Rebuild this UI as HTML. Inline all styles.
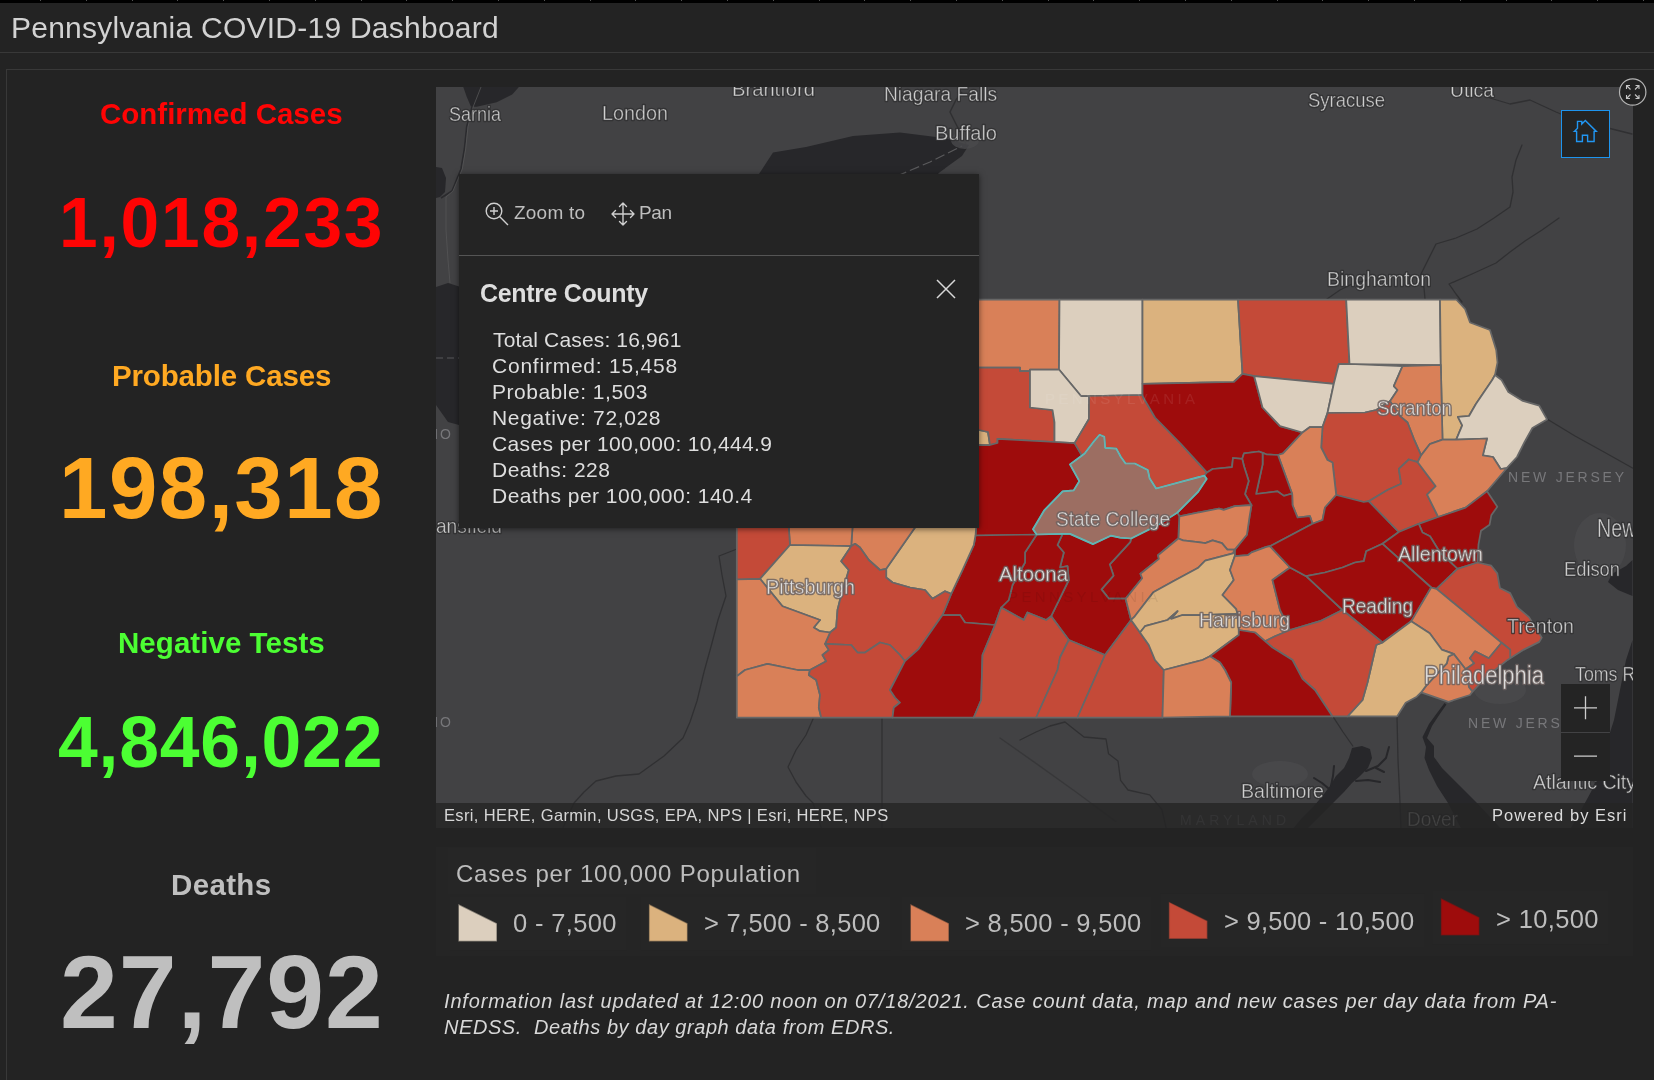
<!DOCTYPE html>
<html lang="en"><head><meta charset="utf-8"><title>Pennsylvania COVID-19 Dashboard</title>
<style>

html,body{margin:0;padding:0;}
body{width:1654px;height:1080px;overflow:hidden;background:#232323;font-family:"Liberation Sans", sans-serif;position:relative;}
.t{position:absolute;white-space:nowrap;line-height:1;will-change:transform;}
.abs{position:absolute;}
#topbar{left:0;top:0;width:1654px;height:3px;background:#000;}
#hl1{left:0;top:52px;width:1654px;height:1px;background:#383838;}
#hl2{left:6px;top:69px;width:1648px;height:1px;background:#383838;}
#vl{left:6px;top:69px;width:1px;height:1011px;background:#383838;}
.lab{left:7px;width:429px;text-align:center;font-weight:bold;}
#map{left:436px;top:87px;width:1196.5px;height:740.5px;overflow:hidden;background:#424244;}
#map svg{position:absolute;left:0;top:0;will-change:transform;}
.ml{font-family:"Liberation Sans", sans-serif;fill:#d0d0d0;stroke:rgba(66,66,68,0.9);stroke-width:0.55px;}
.mlh{font-family:"Liberation Sans", sans-serif;fill:none;stroke:rgba(44,44,46,0.75);stroke-width:2.4px;stroke-linejoin:round;}
.mlp{font-family:"Liberation Sans", sans-serif;fill:#dedede;stroke:rgba(120,105,100,0.9);stroke-width:0.55px;}
.mlph{font-family:"Liberation Sans", sans-serif;fill:none;stroke:rgba(105,95,95,0.8);stroke-width:2.6px;stroke-linejoin:round;}
.st{font-family:"Liberation Sans", sans-serif;fill:#77777a;letter-spacing:4px;}
#popup{left:23px;top:87px;width:520px;height:353.5px;background:#242424;box-shadow:0 1px 6px rgba(0,0,0,0.55);}
#popsep{left:0;top:80.5px;width:520px;height:1px;background:#555;}
.btn{background:#242424;}
#attr{left:0;top:716px;width:1196.5px;height:24.5px;background:rgba(36,36,36,0.82);}
.lg{background:#262626;}

</style></head><body>
<div id="topbar" class="abs"></div>
<div class="abs" style="left:40px;top:0;width:1px;height:1px;background:#555"></div><div class="abs" style="left:86px;top:0;width:1px;height:1px;background:#555"></div><div class="abs" style="left:132px;top:0;width:1px;height:1px;background:#555"></div><div class="abs" style="left:177px;top:0;width:1px;height:1px;background:#555"></div><div class="abs" style="left:223px;top:0;width:1px;height:1px;background:#555"></div><div class="abs" style="left:269px;top:0;width:1px;height:1px;background:#555"></div><div class="abs" style="left:315px;top:0;width:1px;height:1px;background:#555"></div><div class="abs" style="left:361px;top:0;width:1px;height:1px;background:#555"></div><div class="abs" style="left:406px;top:0;width:1px;height:1px;background:#555"></div><div class="abs" style="left:452px;top:0;width:1px;height:1px;background:#555"></div><div class="abs" style="left:498px;top:0;width:1px;height:1px;background:#555"></div><div class="abs" style="left:544px;top:0;width:1px;height:1px;background:#555"></div><div class="abs" style="left:590px;top:0;width:1px;height:1px;background:#555"></div><div class="abs" style="left:635px;top:0;width:1px;height:1px;background:#555"></div><div class="abs" style="left:681px;top:0;width:1px;height:1px;background:#555"></div><div class="abs" style="left:727px;top:0;width:1px;height:1px;background:#555"></div><div class="abs" style="left:773px;top:0;width:1px;height:1px;background:#555"></div><div class="abs" style="left:819px;top:0;width:1px;height:1px;background:#555"></div><div class="abs" style="left:864px;top:0;width:1px;height:1px;background:#555"></div><div class="abs" style="left:910px;top:0;width:1px;height:1px;background:#555"></div><div class="abs" style="left:956px;top:0;width:1px;height:1px;background:#555"></div><div class="abs" style="left:1002px;top:0;width:1px;height:1px;background:#555"></div><div class="abs" style="left:1048px;top:0;width:1px;height:1px;background:#555"></div><div class="abs" style="left:1093px;top:0;width:1px;height:1px;background:#555"></div><div class="abs" style="left:1139px;top:0;width:1px;height:1px;background:#555"></div><div class="abs" style="left:1185px;top:0;width:1px;height:1px;background:#555"></div><div class="abs" style="left:1231px;top:0;width:1px;height:1px;background:#555"></div><div class="abs" style="left:1277px;top:0;width:1px;height:1px;background:#555"></div><div class="abs" style="left:1322px;top:0;width:1px;height:1px;background:#555"></div><div class="abs" style="left:1368px;top:0;width:1px;height:1px;background:#555"></div><div class="abs" style="left:1414px;top:0;width:1px;height:1px;background:#555"></div><div class="abs" style="left:1460px;top:0;width:1px;height:1px;background:#555"></div><div class="abs" style="left:1506px;top:0;width:1px;height:1px;background:#555"></div><div class="abs" style="left:1551px;top:0;width:1px;height:1px;background:#555"></div><div class="abs" style="left:1597px;top:0;width:1px;height:1px;background:#555"></div><div class="abs" style="left:1643px;top:0;width:1px;height:1px;background:#555"></div>
<div class="t" style="left:11.20px;top:12.61px;font-size:30px;color:#d2d2d2;font-weight:normal;font-style:normal;letter-spacing:0.248px;">Pennsylvania COVID-19 Dashboard</div>
<div id="hl1" class="abs"></div><div id="hl2" class="abs"></div><div id="vl" class="abs"></div>
<div class="t" style="left:100.22px;top:98.63px;font-size:29.5px;color:#ff0404;font-weight:bold;font-style:normal;letter-spacing:-0.006px;">Confirmed Cases</div>
<div class="t" style="left:58.93px;top:189.47px;font-size:69.5px;color:#ff0404;font-weight:bold;font-style:normal;letter-spacing:1.791px;">1,018,233</div>
<div class="t" style="left:111.58px;top:360.63px;font-size:29.5px;color:#ffa922;font-weight:bold;font-style:normal;letter-spacing:-0.150px;">Probable Cases</div>
<div class="t" style="left:59.18px;top:444.15px;font-size:87px;color:#ffa922;font-weight:bold;font-style:normal;letter-spacing:1.504px;">198,318</div>
<div class="t" style="left:117.88px;top:628.23px;font-size:29.5px;color:#4cff33;font-weight:bold;font-style:normal;letter-spacing:0.049px;">Negative Tests</div>
<div class="t" style="left:58.43px;top:707.18px;font-size:71.5px;color:#4cff33;font-weight:bold;font-style:normal;letter-spacing:0.795px;">4,846,022</div>
<div class="t" style="left:171.08px;top:869.63px;font-size:29.5px;color:#bfbfbf;font-weight:bold;font-style:normal;letter-spacing:0.343px;">Deaths</div>
<div class="t" style="left:60.16px;top:939.96px;font-size:104px;color:#bfbfbf;font-weight:bold;font-style:normal;letter-spacing:0.952px;">27,792</div>
<div id="map" class="abs">
<svg width="1196.5" height="740.5" viewBox="436 87 1196.5 740.5">
<g fill="#27272a" stroke="none">
<polygon points="436,287 448,283 470,290 600,280 700,240 759,174 773,152.5 806,147 853,136 900,132.6 943.8,138 969,145 962,156 940,172 900,210 850,260 800,300 740,330 650,380 550,420 470,428 448,422 436,405"/>
<polygon points="436,167 442,168 446,178 445,192 440,197 436,198"/>
<polygon points="463.3,87 518.9,87 512.2,94.4 496.7,102.2 476.7,106.7 471,106.7 466.7,96.7"/>
<polygon points="1352,748 1362,746 1370,749 1372,758 1368,768 1360,776 1352,783 1344,792 1336,800 1326,810 1316,820 1306,830 1292,830 1302,818 1314,806 1324,794 1330,786 1336,776 1344,768 1349,758"/>
<g fill="none" stroke="#27272a" stroke-width="2" stroke-linejoin="round" stroke-linecap="round"><polyline points="1366,771 1378,766 1386,758 1389,747"/><polyline points="1356,781 1368,780 1380,782"/><polyline points="1334,766 1333,776 1331,786"/><polyline points="1314,778 1322,783 1328,788"/><polyline points="1376,768 1384,772"/></g>
<polygon points="1444.5,703 1437,713 1429,724 1422.5,737 1426,747 1424.5,758 1429,770 1437,786 1448,803 1462,830 1502,830 1477,803 1459,785 1442,768 1434,757 1434,746 1427,738 1432,726 1439.5,714.5 1446.5,704.5"/>
<polygon points="1632.5,560 1626,566 1612,574 1608,582 1618,590 1632.5,596"/>
<polygon points="1632.5,640 1626,660 1620,690 1614,720 1606,745 1600,770 1592,790 1580,812 1570,830 1632.5,830"/>
</g>
<g fill="none" stroke="#303032" stroke-width="1.3" stroke-linejoin="round" stroke-linecap="round">
<polyline points="737,549 719,556 722,575 726,596 718,620 712,643 704,672 697,701 690,722 683,738 664,756 639,774 616,776 596,781 584,792 574,803 562,830"/>
<polyline points="882,719 882,830"/>
<polyline points="813,719 806,735 796,750 788,767 796,782 806,796 813,803 822,830"/>
<polyline points="1020,740 1036,732 1050,726 1065,722 1075,730 1084,737 1106,739 1108.5,753.7 1118,761 1120.6,780.3 1128,790 1149.7,794.8 1161.8,809.3 1166.6,830"/>
<polyline points="1000,738 1036,763.4 1076,792 1115.8,821.4" stroke-opacity="0.6"/>
<polyline points="1333.5,717.4 1343,732 1352.8,746"/>
<polyline points="1397,717 1398,760 1400,803 1401,830"/>
<polyline points="1522,145 1516,160 1512,177 1513,192 1510,207 1494,218 1477,229 1456,238 1436,244 1428,260 1421,274 1424,288 1425,299"/>
<polyline points="1559,218 1542,230 1525,241 1510,252 1496,263 1472,274 1449,284 1456,294 1462,302"/>
<polyline points="1480,87 1490,98 1510,104 1530,100 1556,112 1580,122 1600,126 1632,134"/>
<polyline points="1547,419 1575,436 1604,452 1632.5,468"/>
<polyline points="1327,299 1340,290 1352,284 1368,280"/>
</g>
<polyline points="472,106.7 466.7,126.7 464.4,149 461,169 452,191 441,198" fill="none" stroke="#2b2b2e" stroke-width="1.6"/>
<polyline points="481,87 473.5,106 468,126.7 465.7,149 462.3,169 453,191 446,197 446,230 448,260 450,283" fill="none" stroke="#555557" stroke-width="0.8"/>
<polyline points="436,358 459,358" fill="none" stroke="#58585a" stroke-width="1" stroke-dasharray="7 4"/>
<polyline points="966,144 958,128 950,112 956,100 962,92" fill="none" stroke="#303032" stroke-width="1.5"/>
<polyline points="897,176 930,162 962,146" fill="none" stroke="#5a5a5c" stroke-width="1.2" stroke-dasharray="10 4"/>
<g fill="#4a4a4c" stroke="none" opacity="0.8">
<ellipse cx="1500" cy="690" rx="26" ry="14"/><ellipse cx="1280" cy="774" rx="28" ry="13"/><ellipse cx="1600" cy="545" rx="26" ry="32"/><ellipse cx="965" cy="140" rx="14" ry="9"/>
</g>
<text class="st" x="1508" y="482" font-size="14" textLength="120">NEW JERSEY</text>
<text class="st" x="1468" y="728" font-size="14" textLength="120">NEW JERSEY</text>
<text class="st" x="1180" y="825" font-size="14" fill="#5a5a5c" textLength="110">MARYLAND</text>
<text class="st" x="409" y="438.5" font-size="14" textLength="46">OHIO</text>
<text class="st" x="409" y="726.5" font-size="14" textLength="46">OHIO</text>
<g stroke="#676767" stroke-width="1.75" stroke-linejoin="round">
<polygon fill="#d98058" points="900.0,299.5 1059.5,299.5 1059.0,369.5 1030.0,369.5 1030.0,371.2 1020.0,371.2 1020.0,367.5 900.0,367.5"/>
<polygon fill="#dccfbe" points="1059.5,299.5 1142.5,299.5 1142.5,395.0 1089.0,396.0 1081.0,396.0 1059.0,369.5"/>
<polygon fill="#dbb27e" points="1142.5,299.5 1238.0,299.5 1242.5,373.8 1233.8,382.0 1142.5,383.8"/>
<polygon fill="#c44a38" points="1238.0,299.5 1346.2,299.5 1349.5,364.0 1338.8,364.0 1333.8,383.8 1254.2,376.2 1242.5,373.8"/>
<polygon fill="#dccfbe" points="1346.2,299.5 1440.0,299.5 1440.8,365.0 1349.5,364.0"/>
<polygon fill="#dbb27e" points="1440.0,299.5 1456.2,299.5 1465.0,308.8 1470.0,322.5 1490.0,330.0 1496.2,350.0 1497.5,362.5 1495.0,375.0 1492.2,380.0 1475.9,404.0 1469.0,416.0 1457.9,416.8 1462.2,425.4 1456.2,439.7 1442.5,439.7 1440.8,365.0"/>
<polygon fill="#dccfbe" points="1495.0,375.0 1501.6,380.0 1508.4,392.0 1522.1,400.6 1539.3,405.7 1547.0,419.4 1532.4,428.0 1524.7,441.7 1517.0,457.0 1506.7,468.2 1500.7,469.0 1493.0,457.0 1482.8,455.4 1487.0,438.5 1456.2,439.7 1462.2,425.4 1457.9,416.8 1469.0,416.0 1475.9,404.0 1492.2,380.0"/>
<polygon fill="#dbb27e" points="900.0,430.0 979.0,430.0 988.0,432.0 990.0,445.0 900.0,445.0"/>
<polygon fill="#c44a38" points="900.0,367.5 1020.0,367.5 1020.0,371.2 1030.0,371.2 1030.0,407.5 1052.5,410.0 1054.5,422.5 1054.5,442.0 997.5,438.8 997.5,443.0 990.0,445.0 988.0,432.0 979.0,430.0 900.0,430.0"/>
<polygon fill="#dccfbe" points="1030.0,369.5 1059.0,369.5 1081.0,396.0 1089.0,396.0 1089.0,419.0 1074.6,443.1 1054.5,442.0 1054.5,422.5 1052.5,410.0 1030.0,407.5"/>
<polygon fill="#9e0c0c" points="997.5,438.8 1054.5,442.0 1074.6,443.1 1082.0,455.5 1070.0,464.4 1079.3,481.1 1073.7,490.4 1062.6,491.3 1044.0,510.7 1033.0,529.3 1036.7,534.5 975.5,535.5 976.2,527.5 900.0,527.5 900.0,445.0 990.0,445.0 997.5,443.0"/>
<polygon fill="#c44a38" points="1089.0,396.0 1142.5,395.0 1143.0,397.0 1155.0,417.5 1181.0,444.0 1207.0,472.5 1204.3,475.6 1156.1,488.5 1149.6,478.3 1147.8,470.0 1134.8,463.5 1125.6,463.5 1120.9,457.0 1116.3,448.7 1105.2,447.8 1104.3,436.7 1099.6,434.8 1094.0,441.3 1084.8,453.3 1082.0,455.5 1074.6,443.1 1089.0,419.0"/>
<polygon fill="#9e0c0c" points="1142.5,383.8 1233.8,382.0 1242.5,373.8 1254.2,376.2 1262.5,407.5 1280.0,426.2 1302.5,432.5 1283.0,453.3 1278.0,455.0 1266.3,454.3 1262.6,452.9 1258.9,451.5 1244.0,453.3 1242.2,458.9 1233.0,458.0 1232.0,467.2 1212.6,469.0 1207.0,472.5 1181.0,444.0 1155.0,417.5 1143.0,397.0 1142.5,395.0"/>
<polygon fill="#dccfbe" points="1254.2,376.2 1333.8,383.8 1327.5,413.0 1322.5,427.0 1310.0,427.0 1302.5,432.5 1280.0,426.2 1262.5,407.5"/>
<polygon fill="#dccfbe" points="1338.8,364.0 1349.5,364.0 1402.5,366.2 1393.8,386.2 1397.5,390.0 1390.0,401.2 1376.2,410.0 1365.0,412.5 1327.5,413.0 1333.8,383.8"/>
<polygon fill="#d98058" points="1402.5,366.2 1440.8,365.0 1442.5,439.7 1429.7,444.2 1421.1,455.4 1413.8,438.8 1407.5,422.5 1400.0,416.2 1390.0,401.2 1397.5,390.0 1393.8,386.2"/>
<polygon fill="#c44a38" points="1327.5,413.0 1365.0,412.5 1376.2,410.0 1390.0,401.2 1400.0,416.2 1407.5,422.5 1413.8,438.8 1421.1,455.4 1417.7,462.2 1408.8,459.5 1398.8,468.8 1401.2,483.8 1387.5,490.0 1368.8,501.2 1363.8,502.0 1336.2,495.0 1332.5,462.5 1327.5,460.0 1321.2,447.5 1322.5,427.0"/>
<polygon fill="#d98058" points="1310.0,427.0 1322.5,427.0 1321.2,447.5 1327.5,460.0 1332.5,462.5 1336.2,495.0 1325.0,507.5 1322.5,520.0 1312.5,523.8 1310.0,516.2 1297.5,517.5 1292.5,505.0 1292.2,494.0 1278.0,455.0 1283.0,453.3 1302.5,432.5"/>
<polygon fill="#9e0c0c" points="1262.6,452.9 1266.3,454.3 1278.0,455.0 1292.2,494.0 1290.4,494.0 1283.9,495.9 1277.4,491.3 1256.1,494.0 1262.6,464.4"/>
<polygon fill="#9e0c0c" points="1242.2,458.9 1244.0,453.3 1258.9,451.5 1262.6,452.9 1262.6,464.4 1256.1,494.0 1277.4,491.3 1283.9,495.9 1290.4,494.0 1292.2,494.0 1292.5,505.0 1297.5,517.5 1310.0,516.2 1312.5,523.8 1270.0,546.2 1266.3,546.9 1251.5,552.4 1247.8,555.2 1234.8,556.1 1234.8,549.6 1246.9,534.8 1249.6,516.3 1251.5,505.2 1245.0,494.0 1248.7,481.1 1244.0,466.3"/>
<polygon fill="#9e0c0c" points="1207.0,472.5 1212.6,469.0 1232.0,467.2 1233.0,458.0 1242.2,458.9 1244.0,466.3 1248.7,481.1 1245.0,494.0 1251.5,505.2 1234.8,506.1 1223.7,509.8 1219.0,508.5 1179.3,516.3 1177.4,512.6 1197.8,492.2 1206.7,478.9 1204.3,475.6"/>
<polygon fill="#d98058" points="1179.3,516.3 1219.0,508.5 1223.7,509.8 1234.8,506.1 1251.5,505.2 1249.6,516.3 1246.9,534.8 1234.8,549.6 1227.4,549.6 1221.9,543.1 1212.6,540.4 1205.2,543.1 1183.0,540.4 1178.3,538.5"/>
<polygon fill="#9e0c0c" points="1131.1,538.5 1157.0,525.6 1177.4,512.6 1179.3,516.3 1178.3,538.5 1158.0,555.2 1158.9,558.9 1140.4,573.7 1142.2,578.3 1125.6,598.7 1108.9,598.7 1101.5,589.4 1113.5,575.6 1109.8,564.4 1130.2,542.2"/>
<polygon fill="#9e0c0c" points="1062.6,533.9 1070.0,533.9 1093.1,544.1 1110.7,535.7 1120.0,537.6 1131.1,538.5 1130.2,542.2 1109.8,564.4 1113.5,575.6 1101.5,589.4 1108.9,598.7 1125.6,598.7 1131.1,620.0 1105.0,655.0 1068.8,640.0 1051.2,616.2 1068.8,580.0 1067.5,566.2 1060.0,567.5 1063.8,552.5 1057.5,545.0"/>
<polygon fill="#9e0c0c" points="1036.7,534.5 1062.6,533.9 1057.5,545.0 1063.8,552.5 1060.0,567.5 1067.5,566.2 1068.8,580.0 1051.2,616.2 1046.2,620.0 1027.5,612.5 1023.8,620.0 1001.2,607.5 1008.8,600.0 1012.5,585.0 1025.0,562.5 1025.0,552.5"/>
<polygon fill="#9e0c0c" points="975.5,535.5 1036.7,534.5 1025.0,552.5 1025.0,562.5 1012.5,585.0 1008.8,600.0 1001.2,607.5 995.0,625.0 965.0,622.5 960.0,615.0 942.5,615.0 951.2,593.8 962.5,570.0 973.8,545.0"/>
<polygon fill="#dbb27e" points="915.0,527.5 930.0,500.0 976.2,500.0 976.2,527.5 975.5,535.5 973.8,545.0 962.5,570.0 951.2,593.8 945.0,591.2 932.5,598.8 925.0,590.0 910.0,587.5 892.5,582.5 886.2,577.5 886.2,568.8"/>
<polygon fill="#d98058" points="852.5,527.5 852.5,500.0 930.0,500.0 915.0,527.5 886.2,568.8 880.0,570.0 868.8,560.0 860.0,547.5 855.0,543.8 851.2,546.2"/>
<polygon fill="#d98058" points="788.8,527.5 788.8,500.0 852.5,500.0 852.5,527.5 851.2,546.2 790.0,545.0"/>
<polygon fill="#c44a38" points="736.8,527.5 736.8,500.0 788.8,500.0 788.8,527.5 790.0,545.0 760.0,578.8 736.8,579.5"/>
<polygon fill="#dbb27e" points="790.0,545.0 851.2,546.2 841.2,561.2 848.8,570.0 840.0,600.0 837.5,610.0 836.2,627.5 830.0,632.5 820.0,631.2 813.8,627.5 820.0,620.0 782.5,606.2 760.0,578.8"/>
<polygon fill="#c44a38" points="855.0,543.8 860.0,547.5 868.8,560.0 880.0,570.0 886.2,568.8 886.2,577.5 892.5,582.5 910.0,587.5 925.0,590.0 932.5,598.8 945.0,591.2 951.2,593.8 942.5,615.0 918.8,648.8 905.0,661.2 900.0,655.0 890.0,645.0 880.0,642.5 865.0,652.5 857.5,652.5 851.2,645.0 825.0,643.8 830.0,632.5 836.2,627.5 837.5,610.0 840.0,600.0 848.8,570.0 841.2,561.2 851.2,546.2"/>
<polygon fill="#d98058" points="736.8,579.5 760.0,578.8 782.5,606.2 820.0,620.0 813.8,627.5 820.0,631.2 830.0,632.5 825.0,643.8 828.8,650.0 822.5,655.0 826.2,661.2 810.0,670.0 797.5,670.0 767.5,663.8 745.0,670.0 736.8,676.2"/>
<polygon fill="#d98058" points="736.8,676.2 745.0,670.0 767.5,663.8 797.5,670.0 810.0,670.0 808.8,675.0 816.2,680.0 820.0,695.0 818.8,707.5 821.2,717.5 736.8,717.5"/>
<polygon fill="#c44a38" points="825.0,643.8 851.2,645.0 857.5,652.5 865.0,652.5 880.0,642.5 890.0,645.0 900.0,655.0 905.0,661.2 890.0,690.0 895.0,697.5 900.0,702.5 893.8,707.5 892.5,717.5 821.2,717.5 818.8,707.5 820.0,695.0 816.2,680.0 808.8,675.0 810.0,670.0 826.2,661.2 822.5,655.0 828.8,650.0"/>
<polygon fill="#9e0c0c" points="942.5,615.0 960.0,615.0 965.0,622.5 995.0,625.0 982.5,655.0 981.2,700.0 973.8,717.5 892.5,717.5 893.8,707.5 900.0,702.5 895.0,697.5 890.0,690.0 905.0,661.2 918.8,648.8"/>
<polygon fill="#c44a38" points="1001.2,607.5 1023.8,620.0 1027.5,612.5 1046.2,620.0 1051.2,616.2 1068.8,640.0 1060.0,657.5 1057.5,670.0 1036.2,717.5 973.8,717.5 981.2,700.0 982.5,655.0 995.0,625.0"/>
<polygon fill="#c44a38" points="1068.8,640.0 1105.0,655.0 1077.5,717.5 1036.2,717.5 1057.5,670.0 1060.0,657.5"/>
<polygon fill="#c44a38" points="1105.0,655.0 1131.1,620.0 1140.0,632.5 1148.8,645.0 1155.0,660.0 1163.8,670.0 1162.5,717.5 1077.5,717.5"/>
<polygon fill="#d98058" points="1158.0,555.2 1178.3,538.5 1183.0,540.4 1205.2,543.1 1212.6,540.4 1221.9,543.1 1227.4,549.6 1234.8,549.6 1233.0,553.3 1205.2,560.7 1197.8,568.1 1173.7,581.1 1153.3,592.2 1134.8,616.3 1131.1,620.0 1125.6,598.7 1142.2,578.3 1140.4,573.7 1158.9,558.9"/>
<polygon fill="#dbb27e" points="1131.1,620.0 1134.8,616.3 1153.3,592.2 1173.7,581.1 1197.8,568.1 1205.2,560.7 1233.0,553.3 1234.8,549.6 1234.8,556.1 1230.0,570.0 1233.8,580.0 1222.5,595.0 1236.2,608.8 1237.5,613.8 1200.0,615.0 1182.5,615.0 1171.2,618.8 1177.5,611.2 1167.5,620.0 1145.0,626.2 1140.0,632.5"/>
<polygon fill="#dbb27e" points="1140.0,632.5 1145.0,626.2 1167.5,620.0 1177.5,611.2 1171.2,618.8 1182.5,615.0 1200.0,615.0 1237.5,613.8 1238.8,630.0 1238.8,635.0 1210.0,656.2 1202.5,660.0 1163.8,670.0 1155.0,660.0 1148.8,645.0"/>
<polygon fill="#d98058" points="1234.8,556.1 1247.8,555.2 1251.5,552.4 1266.3,546.9 1270.0,546.2 1290.0,567.5 1272.5,580.0 1280.0,610.0 1290.0,630.0 1275.0,636.2 1265.0,641.2 1255.0,632.5 1238.8,630.0 1237.5,613.8 1236.2,608.8 1222.5,595.0 1233.8,580.0 1230.0,570.0"/>
<polygon fill="#9e0c0c" points="1290.0,567.5 1306.2,576.2 1342.5,610.0 1320.0,621.2 1290.0,630.0 1280.0,610.0 1272.5,580.0"/>
<polygon fill="#9e0c0c" points="1270.0,546.2 1312.5,523.8 1322.5,520.0 1325.0,507.5 1336.2,495.0 1363.8,502.0 1368.8,501.2 1398.8,532.0 1382.5,543.8 1366.2,551.2 1363.8,561.2 1355.0,562.5 1342.5,567.5 1325.0,572.5 1306.2,576.2 1290.0,567.5"/>
<polygon fill="#c44a38" points="1408.8,459.5 1417.7,462.2 1435.7,486.2 1427.1,494.7 1438.2,517.0 1418.8,523.8 1398.8,532.0 1368.8,501.2 1387.5,490.0 1401.2,483.8 1398.8,468.8"/>
<polygon fill="#d98058" points="1421.1,455.4 1429.7,444.2 1442.5,439.7 1456.2,439.7 1487.0,438.5 1482.8,455.4 1493.0,457.0 1500.7,469.0 1506.7,468.2 1487.0,491.3 1465.6,507.6 1438.2,517.0 1427.1,494.7 1435.7,486.2 1417.7,462.2"/>
<polygon fill="#9e0c0c" points="1418.8,523.8 1438.2,517.0 1465.6,507.6 1487.0,491.3 1497.3,506.7 1491.3,515.3 1489.6,524.7 1481.0,530.7 1478.5,544.4 1477.5,562.5 1457.5,568.8 1440.0,552.5 1430.0,536.2 1422.5,532.5"/>
<polygon fill="#9e0c0c" points="1382.5,543.8 1398.8,532.0 1418.8,523.8 1422.5,532.5 1430.0,536.2 1440.0,552.5 1457.5,568.8 1436.5,588.8 1431.2,587.5"/>
<polygon fill="#9e0c0c" points="1306.2,576.2 1325.0,572.5 1342.5,567.5 1355.0,562.5 1363.8,561.2 1366.2,551.2 1382.5,543.8 1431.2,587.5 1411.2,621.2 1382.5,642.5 1342.5,610.0"/>
<polygon fill="#c44a38" points="1436.5,588.8 1457.5,568.8 1477.5,562.5 1491.3,565.7 1497.3,573.4 1499.9,588.0 1510.2,593.1 1517.0,606.8 1529.0,617.1 1541.8,637.6 1539.3,641.9 1523.9,649.6 1510.2,658.2 1510.2,649.6 1501.6,642.8"/>
<polygon fill="#d98058" points="1411.2,621.2 1431.2,587.5 1436.5,588.8 1501.6,642.8 1488.8,658.2 1475.0,651.3 1469.9,658.2 1474.2,663.3 1465.6,669.3 1453.6,653.9 1441.7,649.6 1429.7,633.3"/>
<polygon fill="#c44a38" points="1469.9,658.2 1475.0,651.3 1488.8,658.2 1501.6,642.8 1510.2,649.6 1510.2,658.2 1507.6,659.9 1486.2,677.0 1472.5,691.6 1469.0,687.3 1465.6,669.3 1474.2,663.3"/>
<polygon fill="#d98058" points="1453.6,653.9 1465.6,669.3 1469.0,687.3 1472.5,691.6 1469.9,695.0 1448.5,701.8 1421.1,692.4 1426.2,685.6 1446.8,663.3 1448.5,656.5"/>
<polygon fill="#dbb27e" points="1382.5,642.5 1411.2,621.2 1429.7,633.3 1441.7,649.6 1453.6,653.9 1448.5,656.5 1446.8,663.3 1426.2,685.6 1421.1,692.4 1416.8,696.7 1405.7,702.7 1397.1,716.4 1347.5,716.4 1362.5,700.0 1367.5,682.5 1376.2,645.0"/>
<polygon fill="#c44a38" points="1265.0,641.2 1275.0,636.2 1290.0,630.0 1320.0,621.2 1342.5,610.0 1382.5,642.5 1376.2,645.0 1367.5,682.5 1362.5,700.0 1347.5,716.4 1332.5,716.4 1315.0,690.0 1302.5,678.8 1292.5,660.0 1272.5,647.5"/>
<polygon fill="#9e0c0c" points="1210.0,656.2 1238.8,635.0 1238.8,630.0 1255.0,632.5 1265.0,641.2 1272.5,647.5 1292.5,660.0 1302.5,678.8 1315.0,690.0 1332.5,716.4 1230.0,716.4 1231.2,682.5 1225.0,670.0 1220.0,662.5"/>
<polygon fill="#d98058" points="1163.8,670.0 1202.5,660.0 1210.0,656.2 1220.0,662.5 1225.0,670.0 1231.2,682.5 1230.0,716.4 1162.5,717.5"/>
</g>
<polygon fill="#9c6e62" stroke="#3fd0d0" stroke-width="1.7" stroke-linejoin="round" points="1099.6,434.8 1094.0,441.3 1084.8,453.3 1082.0,455.5 1070.0,464.4 1079.3,481.1 1073.7,490.4 1062.6,491.3 1044.0,510.7 1033.0,529.3 1036.7,534.5 1062.6,533.9 1070.0,533.9 1093.1,544.1 1110.7,535.7 1120.0,537.6 1131.1,538.5 1157.0,525.6 1177.4,512.6 1197.8,492.2 1206.7,478.9 1204.3,475.6 1156.1,488.5 1149.6,478.3 1147.8,470.0 1134.8,463.5 1125.6,463.5 1120.9,457.0 1116.3,448.7 1105.2,447.8 1104.3,436.7"/>
<polygon fill="none" stroke="#8a9a98" stroke-width="0.8" stroke-linejoin="round" points="1099.6,434.8 1094.0,441.3 1084.8,453.3 1082.0,455.5 1070.0,464.4 1079.3,481.1 1073.7,490.4 1062.6,491.3 1044.0,510.7 1033.0,529.3 1036.7,534.5 1062.6,533.9 1070.0,533.9 1093.1,544.1 1110.7,535.7 1120.0,537.6 1131.1,538.5 1157.0,525.6 1177.4,512.6 1197.8,492.2 1206.7,478.9 1204.3,475.6 1156.1,488.5 1149.6,478.3 1147.8,470.0 1134.8,463.5 1125.6,463.5 1120.9,457.0 1116.3,448.7 1105.2,447.8 1104.3,436.7"/>
<text x="1045" y="404" font-size="15" font-family='"Liberation Sans", sans-serif' fill="#fff" opacity="0.08" textLength="150">PENNSYLVANIA</text>
<text x="1008" y="602" font-size="15" font-family='"Liberation Sans", sans-serif' fill="#000" opacity="0.07" textLength="150">PENNSYLVANIA</text>
<text class="mlh" x="449" y="121" font-size="21" textLength="52" lengthAdjust="spacingAndGlyphs">Sarnia</text>
<text class="ml" x="449" y="121" font-size="21" textLength="52" lengthAdjust="spacingAndGlyphs">Sarnia</text>
<text class="mlh" x="602" y="120" font-size="21" textLength="66" lengthAdjust="spacingAndGlyphs">London</text>
<text class="ml" x="602" y="120" font-size="21" textLength="66" lengthAdjust="spacingAndGlyphs">London</text>
<text class="mlh" x="732" y="96" font-size="21" textLength="83" lengthAdjust="spacingAndGlyphs">Brantford</text>
<text class="ml" x="732" y="96" font-size="21" textLength="83" lengthAdjust="spacingAndGlyphs">Brantford</text>
<text class="mlh" x="884" y="101" font-size="21" textLength="113" lengthAdjust="spacingAndGlyphs">Niagara Falls</text>
<text class="ml" x="884" y="101" font-size="21" textLength="113" lengthAdjust="spacingAndGlyphs">Niagara Falls</text>
<text class="mlh" x="935" y="140" font-size="21" textLength="62" lengthAdjust="spacingAndGlyphs">Buffalo</text>
<text class="ml" x="935" y="140" font-size="21" textLength="62" lengthAdjust="spacingAndGlyphs">Buffalo</text>
<text class="mlh" x="1308" y="107" font-size="21" textLength="77" lengthAdjust="spacingAndGlyphs">Syracuse</text>
<text class="ml" x="1308" y="107" font-size="21" textLength="77" lengthAdjust="spacingAndGlyphs">Syracuse</text>
<text class="mlh" x="1450" y="97" font-size="21" textLength="44" lengthAdjust="spacingAndGlyphs">Utica</text>
<text class="ml" x="1450" y="97" font-size="21" textLength="44" lengthAdjust="spacingAndGlyphs">Utica</text>
<text class="mlh" x="1327" y="286" font-size="21" textLength="104" lengthAdjust="spacingAndGlyphs">Binghamton</text>
<text class="ml" x="1327" y="286" font-size="21" textLength="104" lengthAdjust="spacingAndGlyphs">Binghamton</text>
<text class="mlh" x="420" y="533" font-size="21" textLength="82" lengthAdjust="spacingAndGlyphs">Mansfield</text>
<text class="ml" x="420" y="533" font-size="21" textLength="82" lengthAdjust="spacingAndGlyphs">Mansfield</text>
<text class="mlph" x="1377" y="415" font-size="21" textLength="75" lengthAdjust="spacingAndGlyphs">Scranton</text>
<text class="mlp" x="1377" y="415" font-size="21" textLength="75" lengthAdjust="spacingAndGlyphs">Scranton</text>
<text class="mlph" x="1056" y="526" font-size="21" textLength="114" lengthAdjust="spacingAndGlyphs">State College</text>
<text class="mlp" x="1056" y="526" font-size="21" textLength="114" lengthAdjust="spacingAndGlyphs">State College</text>
<text class="mlph" x="999" y="581" font-size="21" textLength="69" lengthAdjust="spacingAndGlyphs">Altoona</text>
<text class="mlp" x="999" y="581" font-size="21" textLength="69" lengthAdjust="spacingAndGlyphs">Altoona</text>
<text class="mlph" x="766" y="594" font-size="21" textLength="89" lengthAdjust="spacingAndGlyphs">Pittsburgh</text>
<text class="mlp" x="766" y="594" font-size="21" textLength="89" lengthAdjust="spacingAndGlyphs">Pittsburgh</text>
<text class="mlph" x="1199" y="627" font-size="21" textLength="91" lengthAdjust="spacingAndGlyphs">Harrisburg</text>
<text class="mlp" x="1199" y="627" font-size="21" textLength="91" lengthAdjust="spacingAndGlyphs">Harrisburg</text>
<text class="mlph" x="1342" y="613" font-size="21" textLength="71" lengthAdjust="spacingAndGlyphs">Reading</text>
<text class="mlp" x="1342" y="613" font-size="21" textLength="71" lengthAdjust="spacingAndGlyphs">Reading</text>
<text class="mlph" x="1398" y="561" font-size="21" textLength="85" lengthAdjust="spacingAndGlyphs">Allentown</text>
<text class="mlp" x="1398" y="561" font-size="21" textLength="85" lengthAdjust="spacingAndGlyphs">Allentown</text>
<text class="mlh" x="1507" y="633" font-size="21" textLength="67" lengthAdjust="spacingAndGlyphs">Trenton</text>
<text class="ml" x="1507" y="633" font-size="21" textLength="67" lengthAdjust="spacingAndGlyphs">Trenton</text>
<text class="mlph" x="1424" y="684" font-size="25" textLength="120" lengthAdjust="spacingAndGlyphs">Philadelphia</text>
<text class="mlp" x="1424" y="684" font-size="25" textLength="120" lengthAdjust="spacingAndGlyphs">Philadelphia</text>
<text class="mlh" x="1564" y="576" font-size="21" textLength="56" lengthAdjust="spacingAndGlyphs">Edison</text>
<text class="ml" x="1564" y="576" font-size="21" textLength="56" lengthAdjust="spacingAndGlyphs">Edison</text>
<text class="mlh" x="1597" y="537" font-size="25" textLength="83" lengthAdjust="spacingAndGlyphs">New York</text>
<text class="ml" x="1597" y="537" font-size="25" textLength="83" lengthAdjust="spacingAndGlyphs">New York</text>
<text class="mlh" x="1575" y="681" font-size="21" textLength="89" lengthAdjust="spacingAndGlyphs">Toms River</text>
<text class="ml" x="1575" y="681" font-size="21" textLength="89" lengthAdjust="spacingAndGlyphs">Toms River</text>
<text class="mlh" x="1533" y="789" font-size="21" textLength="103" lengthAdjust="spacingAndGlyphs">Atlantic City</text>
<text class="ml" x="1533" y="789" font-size="21" textLength="103" lengthAdjust="spacingAndGlyphs">Atlantic City</text>
<text class="mlh" x="1241" y="798" font-size="21" textLength="83" lengthAdjust="spacingAndGlyphs">Baltimore</text>
<text class="ml" x="1241" y="798" font-size="21" textLength="83" lengthAdjust="spacingAndGlyphs">Baltimore</text>
<text class="mlh" x="1407" y="826" font-size="21" textLength="51" lengthAdjust="spacingAndGlyphs">Dover</text>
<text class="ml" x="1407" y="826" font-size="21" textLength="51" lengthAdjust="spacingAndGlyphs">Dover</text>
</svg>
<div id="attr" class="abs"></div>
<div class="t" style="left:8.18px;top:720.03px;font-size:16.5px;color:#d6d6d6;font-weight:normal;font-style:normal;letter-spacing:0.344px;">Esri, HERE, Garmin, USGS, EPA, NPS | Esri, HERE, NPS</div>
<div class="t" style="left:1055.88px;top:719.83px;font-size:16.5px;color:#dcdcdc;font-weight:normal;font-style:normal;letter-spacing:1.027px;">Powered by Esri</div>
<div class="abs btn" style="left:1125px;top:597px;width:49px;height:48.3px;"></div>
<div class="abs btn" style="left:1125px;top:646.3px;width:49px;height:48px;"></div>
<svg class="abs" style="left:1125px;top:597px" width="49" height="98" viewBox="0 0 49 98"><path d="M13 23.8H36M24.5 12.3V35.3M13 72.2H36" stroke="#cdcdcd" stroke-width="1.3" fill="none"/></svg>
<div class="abs btn" style="left:1124.7px;top:22.9px;width:49.1px;height:47.8px;border:1.9px solid #1e94ee;box-sizing:border-box;"></div>
<svg class="abs" style="left:1125px;top:23px" width="49" height="48" viewBox="0 0 49 48"><path d="M13.3 21.4L16.5 18.3V11.4H20.8V14L24.3 10.6L35.3 21.4H33.1V31.5H26.6V25.3H21.4V31.5H15.6V21.4Z" stroke="#2196f3" stroke-width="1.4" fill="none" stroke-linejoin="miter"/></svg>
<div id="popup" class="abs">
<div id="popsep" class="abs"></div>
<svg class="abs" style="left:24px;top:26px" width="30" height="30" viewBox="0 0 30 30"><circle cx="11" cy="11" r="7.8" stroke="#cfcfcf" stroke-width="1.4" fill="none"/><path d="M16.8 16.8L25 25M7 11H15M11 7V15" stroke="#cfcfcf" stroke-width="1.4" fill="none"/></svg>
<div class="t" style="left:54.93px;top:29.32px;font-size:19px;color:#bebebe;font-weight:normal;font-style:normal;letter-spacing:0.216px;">Zoom to</div>
<svg class="abs" style="left:151px;top:26.5px" width="26" height="26" viewBox="0 0 26 26"><path d="M13 2V24M2 13H24M9.5 5.5L13 2L16.5 5.5M9.5 20.5L13 24L16.5 20.5M5.5 9.5L2 13L5.5 16.5M20.5 9.5L24 13L20.5 16.5" stroke="#cfcfcf" stroke-width="1.4" fill="none" stroke-linejoin="round" stroke-linecap="round"/></svg>
<div class="t" style="left:180.08px;top:29.32px;font-size:19px;color:#bebebe;font-weight:normal;font-style:normal;letter-spacing:-0.350px;">Pan</div>
<div class="t" style="left:21.20px;top:106.64px;font-size:25px;color:#dedede;font-weight:bold;font-style:normal;letter-spacing:-0.350px;">Centre County</div>
<svg class="abs" style="left:477px;top:105px" width="20" height="20" viewBox="0 0 20 20"><path d="M1 1L19 19M19 1L1 19" stroke="#d8d8d8" stroke-width="1.5" fill="none"/></svg>
<div class="t" style="left:33.78px;top:155.32px;font-size:21px;color:#dedede;font-weight:normal;font-style:normal;letter-spacing:0.151px;">Total Cases: 16,961</div>
<div class="t" style="left:33.15px;top:181.27px;font-size:21px;color:#dedede;font-weight:normal;font-style:normal;letter-spacing:0.773px;">Confirmed: 15,458</div>
<div class="t" style="left:33.22px;top:207.22px;font-size:21px;color:#dedede;font-weight:normal;font-style:normal;letter-spacing:0.511px;">Probable: 1,503</div>
<div class="t" style="left:33.22px;top:233.17px;font-size:21px;color:#dedede;font-weight:normal;font-style:normal;letter-spacing:0.651px;">Negative: 72,028</div>
<div class="t" style="left:33.15px;top:259.12px;font-size:21px;color:#dedede;font-weight:normal;font-style:normal;letter-spacing:0.350px;">Cases per 100,000: 10,444.9</div>
<div class="t" style="left:33.22px;top:285.07px;font-size:21px;color:#dedede;font-weight:normal;font-style:normal;letter-spacing:0.463px;">Deaths: 228</div>
<div class="t" style="left:33.22px;top:311.02px;font-size:21px;color:#dedede;font-weight:normal;font-style:normal;letter-spacing:0.482px;">Deaths per 100,000: 140.4</div>
</div>
</div>
<svg class="abs" style="left:1618px;top:77px" width="30" height="30" viewBox="0 0 30 30"><circle cx="14.7" cy="15" r="13.2" fill="#232323" stroke="#b4b4b4" stroke-width="1.2"/><path d="M8.5 12V8.5H12M8.5 8.5L12.5 12.5M17.5 8.5H21V12M21 8.5L17 12.5M8.5 18V21.5H12M8.5 21.5L12.5 17.5M21 18V21.5H17.5M21 21.5L17 17.5" stroke="#c4c4c4" stroke-width="1.1" fill="none"/></svg>
<div class="abs lg" style="left:435.5px;top:846.5px;width:1197px;height:109px;background:#252525"></div>
<div class="abs lg" style="left:448px;top:848px;width:368px;height:46px;"></div>
<div class="t" style="left:455.80px;top:862.28px;font-size:24px;color:#bdbdbd;font-weight:normal;font-style:normal;letter-spacing:0.787px;">Cases per 100,000 Population</div>
<svg class="abs" style="left:436px;top:846px" width="1196" height="116" viewBox="436 846 1196 116">
<rect x="450" y="896.2" width="176.89999999999998" height="54" fill="#262626"/>
<polygon points="459,905.2 496.3,923.7 496.3,940.7 459,940.7" fill="#dccfbe" stroke="#dccfbe" stroke-opacity="0.5" stroke-width="1.4"/>
<rect x="640.6" y="896.2" width="250.0" height="54" fill="#262626"/>
<polygon points="649.6,905.2 686.9,923.7 686.9,940.7 649.6,940.7" fill="#dbb27e" stroke="#dbb27e" stroke-opacity="0.5" stroke-width="1.4"/>
<rect x="902" y="896.2" width="249.79999999999995" height="54" fill="#262626"/>
<polygon points="911,905.2 948.3,923.7 948.3,940.7 911,940.7" fill="#d98058" stroke="#d98058" stroke-opacity="0.5" stroke-width="1.4"/>
<rect x="1160.5" y="893.8" width="264.0999999999999" height="54" fill="#262626"/>
<polygon points="1169.5,902.8 1206.8,921.3 1206.8,938.3 1169.5,938.3" fill="#c44a38" stroke="#c44a38" stroke-opacity="0.5" stroke-width="1.4"/>
<rect x="1432.5" y="890.2" width="176.4000000000001" height="54" fill="#262626"/>
<polygon points="1441.5,899.2 1478.8,917.7 1478.8,934.7 1441.5,934.7" fill="#9e0c0c" stroke="#9e0c0c" stroke-opacity="0.5" stroke-width="1.4"/>
</svg>
<div class="t" style="left:513.38px;top:910.81px;font-size:25.5px;color:#bdbdbd;font-weight:normal;font-style:normal;letter-spacing:0.352px;">0 - 7,500</div>
<div class="t" style="left:704.23px;top:910.81px;font-size:25.5px;color:#bdbdbd;font-weight:normal;font-style:normal;letter-spacing:0.287px;">&gt; 7,500 - 8,500</div>
<div class="t" style="left:965.43px;top:910.81px;font-size:25.5px;color:#bdbdbd;font-weight:normal;font-style:normal;letter-spacing:0.287px;">&gt; 8,500 - 9,500</div>
<div class="t" style="left:1224.42px;top:909.41px;font-size:25.5px;color:#bdbdbd;font-weight:normal;font-style:normal;letter-spacing:0.244px;">&gt; 9,500 - 10,500</div>
<div class="t" style="left:1496.42px;top:906.91px;font-size:25.5px;color:#bdbdbd;font-weight:normal;font-style:normal;letter-spacing:0.344px;">&gt; 10,500</div>
<div class="t" style="left:443.70px;top:991.37px;font-size:20px;color:#d8d8d8;font-weight:normal;font-style:italic;letter-spacing:0.835px;">Information last updated at 12:00 noon on 07/18/2021. Case count data, map and new cases per day data from PA-</div>
<div class="t" style="left:443.90px;top:1017.27px;font-size:20px;color:#d8d8d8;font-weight:normal;font-style:italic;letter-spacing:0.560px;white-space:pre;">NEDSS.&nbsp; Deaths by day graph data from EDRS.</div>
</body></html>
